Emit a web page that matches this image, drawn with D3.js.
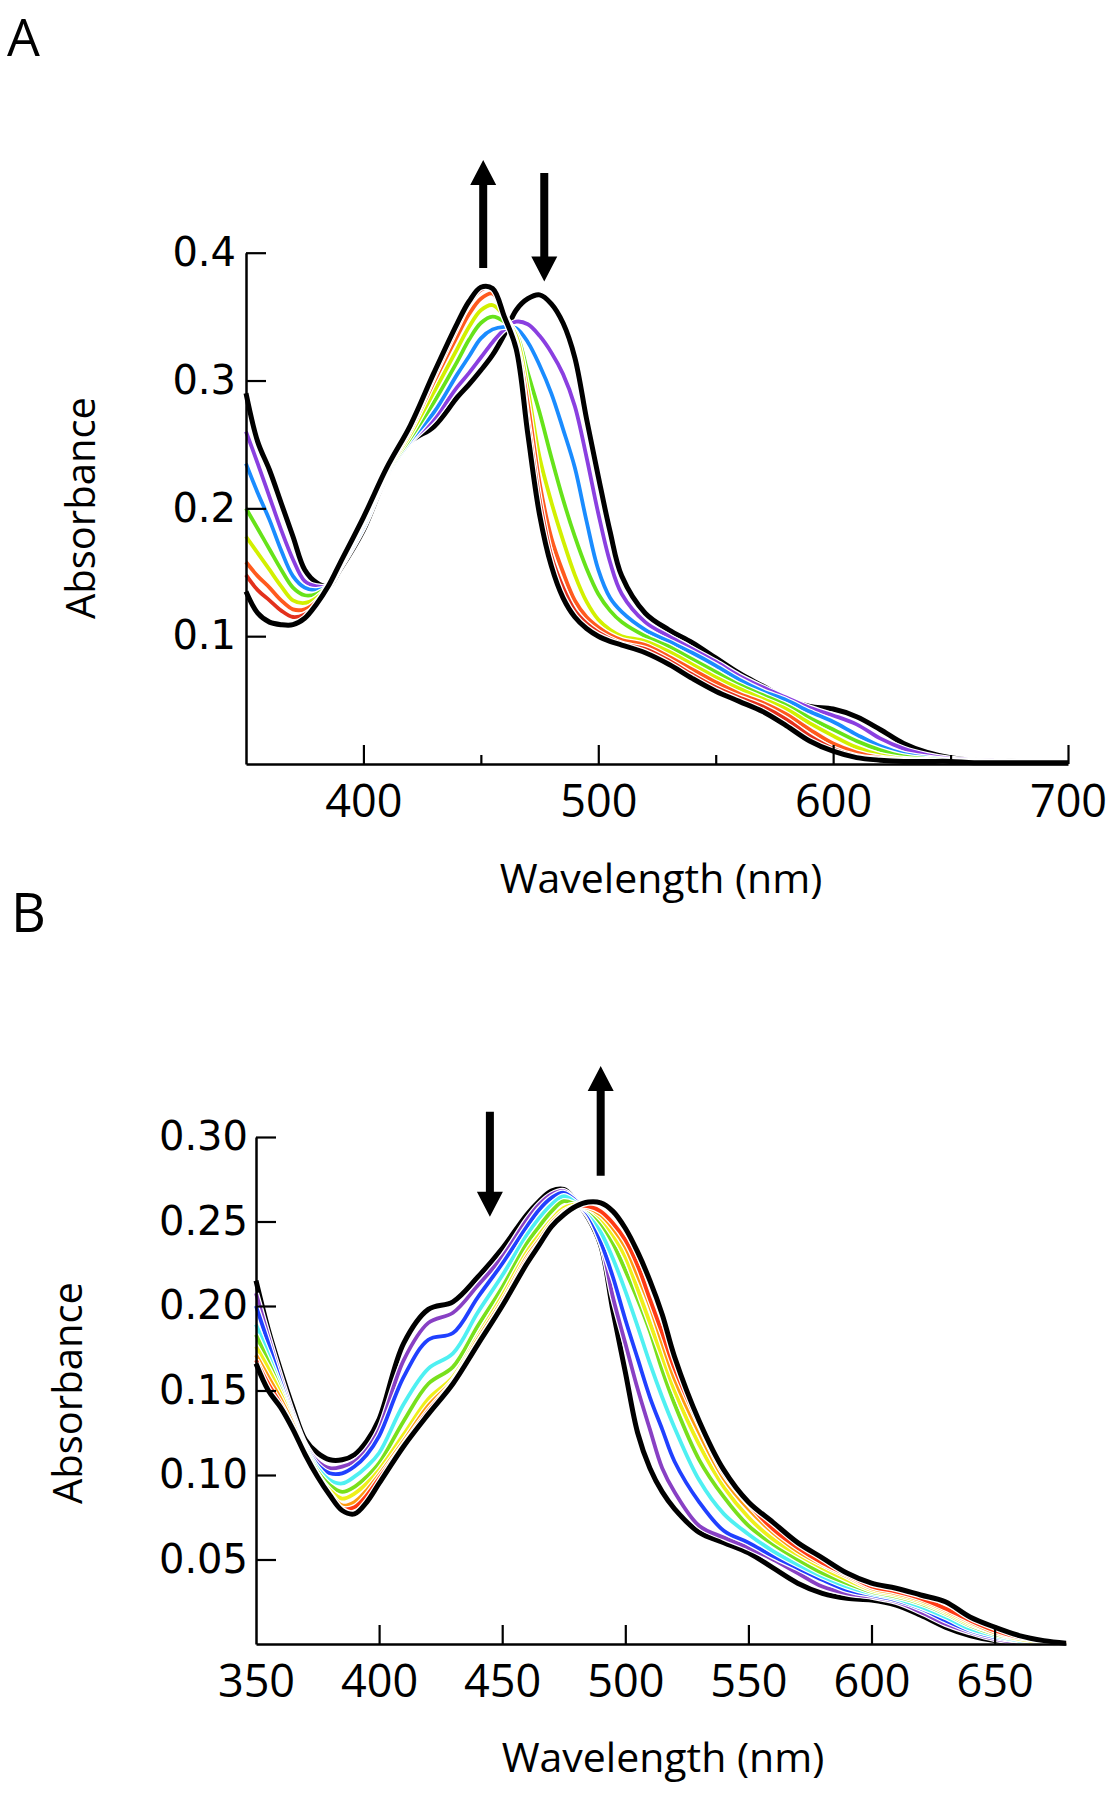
<!DOCTYPE html>
<html><head><meta charset="utf-8">
<script src="https://cdn.jsdelivr.net/npm/d3@7"></script>
<style>body{margin:0;background:#fff}</style>
</head><body><svg id="c" width="1114" height="1800"></svg>
<script>
// ---------- Panel A data ----------
const wlA = [350,355,360,365,370,375,380,385,390,400,410,420,430,440,445,450,455,460,465,470,475,480,485,490,495,500,505,510,520,530,540,550,560,570,580,590,600,610,620,630,640,650,660,680,700];
const aInitial = [.29,.252,.23,.204,.178,.152,.142,.139,.152,.183,.226,.252,.264,.287,.297,.308,.32,.336,.355,.364,.367,.36,.345,.318,.27,.225,.182,.147,.118,.105,.095,.083,.071,.061,.051,.045,.043,.037,.027,.016,.009,.005,.003,.002,.002];
const aPurple  = [.26,.235,.209,.183,.16,.143,.139,.139,.153,.185,.226,.252,.27,.295,.306,.318,.33,.34,.346,.344,.335,.322,.305,.28,.24,.196,.158,.133,.111,.1,.09,.08,.069,.06,.052,.044,.038,.031,.02,.012,.007,.004,.003,.002,.001];
const aBlue    = [.235,.212,.191,.167,.147,.138,.136,.139,.154,.186,.227,.253,.275,.305,.319,.333,.34,.342,.341,.33,.312,.29,.262,.232,.19,.152,.13,.119,.105,.096,.087,.077,.066,.057,.05,.041,.033,.023,.014,.008,.005,.003,.002,.001,.001];
const aGreen   = [.2,.184,.168,.152,.138,.132,.133,.139,.155,.188,.228,.255,.283,.315,.332,.345,.35,.346,.337,.306,.275,.24,.207,.178,.153,.133,.12,.111,.1,.092,.082,.072,.062,.054,.046,.036,.027,.018,.011,.006,.004,.003,.002,.001,.001];
const aYellow  = [.178,.165,.152,.139,.128,.126,.13,.139,.155,.189,.229,.258,.291,.325,.342,.355,.359,.35,.335,.293,.24,.205,.175,.148,.127,.113,.105,.1,.096,.088,.078,.068,.059,.051,.043,.032,.022,.013,.007,.004,.003,.002,.002,.001,.001];
const aOrange  = [.158,.147,.138,.128,.121,.121,.127,.139,.156,.19,.23,.261,.299,.335,.352,.364,.368,.352,.33,.282,.22,.177,.15,.128,.115,.107,.101,.097,.093,.084,.074,.064,.055,.048,.039,.027,.016,.009,.005,.003,.002,.002,.002,.001,.001];
const aRed     = [.148,.136,.128,.12,.115,.117,.124,.138,.156,.191,.231,.263,.303,.342,.36,.371,.372,.352,.328,.268,.207,.163,.138,.12,.11,.103,.098,.094,.09,.081,.07,.06,.052,.045,.035,.022,.012,.006,.004,.003,.002,.002,.002,.001,.001];
const aFinal   = [.135,.118,.111,.109,.109,.114,.125,.139,.157,.193,.232,.265,.306,.345,.362,.373,.372,.35,.325,.258,.195,.155,.13,.115,.106,.1,.096,.093,.087,.078,.067,.057,.049,.041,.03,.018,.01,.005,.003,.002,.002,.002,.001,.001,.001];
const ticksAx = [400,500,600,700];
const minorAx = [450,550,650];
const ticksAy = [0.1,0.2,0.3,0.4];

// ---------- Panel B data ----------
const wlB = [350,355,360,365,370,375,380,385,390,395,400,410,420,430,440,450,460,465,470,475,480,485,490,495,500,505,510,515,520,530,540,550,560,570,580,590,600,610,620,630,640,650,660,670,679];
const bInitial = [.215,.186,.162,.140,.121,.113,.109,.109,.112,.12,.133,.178,.198,.2025,.217,.234,.254,.262,.268,.269,.262,.252,.236,.197,.161,.125,.104,.09,.08,.066,.06,.054,.045,.036,.03,.027,.026,.023,.017,.01,.005,.002,.001,.0005,0];
const bPurple  = [.2075,.182,.158,.136,.118,.108,.104,.105,.108,.115,.127,.168,.19,.196,.212,.229,.251,.26,.266,.268,.262,.253,.238,.205,.178,.151,.127,.104,.09,.07,.063,.057,.05,.042,.034,.03,.028,.025,.019,.012,.007,.003,.001,.001,0];
const bBlue    = [.2,.178,.155,.134,.117,.106,.101,.101,.105,.112,.123,.158,.18,.184,.205,.225,.247,.257,.264,.267,.262,.254,.238,.217,.192,.169,.146,.127,.108,.084,.067,.06,.052,.045,.038,.032,.029,.026,.021,.014,.008,.004,.002,.001,0];
const bCyan    = [.189,.171,.152,.133,.116,.104,.097,.095,.099,.105,.113,.142,.163,.172,.196,.218,.242,.252,.26,.265,.261,.256,.244,.228,.209,.188,.166,.146,.128,.097,.077,.065,.055,.047,.04,.034,.03,.027,.022,.016,.009,.005,.002,.001,0];
const bGreen   = [.183,.167,.15,.132,.115,.102,.094,.09,.093,.099,.107,.132,.154,.164,.188,.211,.237,.247,.256,.262,.26,.257,.249,.237,.221,.204,.185,.162,.142,.109,.087,.07,.059,.05,.042,.036,.031,.028,.024,.018,.011,.006,.003,.001,0];
const bYellow  = [.176,.163,.148,.131,.114,.1,.091,.086,.089,.095,.103,.124,.145,.158,.182,.206,.232,.242,.251,.258,.26,.258,.252,.242,.229,.21,.19,.17,.15,.118,.093,.075,.062,.053,.045,.038,.032,.029,.025,.019,.012,.007,.003,.001,0];
const bOrange  = [.171,.158,.145,.13,.113,.1,.089,.082,.084,.091,.1,.12,.141,.156,.18,.203,.229,.239,.249,.256,.259,.258,.254,.246,.235,.218,.2,.178,.157,.125,.098,.08,.066,.055,.047,.04,.033,.03,.026,.02,.013,.007,.004,.002,0];
const bRed     = [.168,.154,.142,.128,.112,.099,.088,.08,.081,.088,.098,.118,.138,.155,.178,.201,.227,.237,.247,.255,.259,.259,.256,.249,.239,.224,.204,.184,.163,.13,.101,.083,.068,.057,.048,.041,.034,.031,.027,.021,.014,.008,.004,.002,.0005];
const bFinal   = [.166,.150,.140,.127,.112,.099,.088,.079,.077,.084,.095,.117,.136,.154,.177,.2,.225,.236,.247,.254,.259,.2615,.261,.256,.246,.232,.215,.195,.17,.132,.103,.084,.072,.06,.051,.042,.036,.033,.029,.025,.016,.01,.005,.002,.0005];
const ticksBx = [400,450,500,550,600,650];
const labelsBx = [350,400,450,500,550,600,650];
const ticksBy = [0.05,0.10,0.15,0.20,0.25,0.30];

// arrows (wavelength, tail absorbance, tip absorbance)
const arrowsA = [{wl:451, tail:0.388, tip:0.4726},{wl:477, tail:0.4624, tip:0.3774}];
const arrowsB = [{wl:445, tail:0.315, tip:0.2528},{wl:490, tail:0.277, tip:0.342}];

const seriesA = [
  {v:aInitial, c:'#000000', w:5},
  {v:aPurple,  c:'#8a3fe0', w:3.8},
  {v:aBlue,    c:'#1a8cff', w:3.8},
  {v:aGreen,   c:'#66e31a', w:3.8},
  {v:aYellow,  c:'#d2f000', w:3.8},
  {v:aOrange,  c:'#ff5a1e', w:3.8},
  {v:aRed,     c:'#e3301c', w:3.8},
  {v:aFinal,   c:'#000000', w:5}
];
const seriesB = [
  {v:bInitial, c:'#000000', w:5},
  {v:bPurple,  c:'#8840c4', w:3.8},
  {v:bBlue,    c:'#2040ff', w:3.8},
  {v:bCyan,    c:'#4ff0f2', w:3.8},
  {v:bGreen,   c:'#78e01c', w:3.8},
  {v:bYellow,  c:'#eef01a', w:3.8},
  {v:bOrange,  c:'#ff9a10', w:3.8},
  {v:bRed,     c:'#ff3a14', w:3.8},
  {v:bFinal,   c:'#000000', w:5}
];

const svg = d3.select('#c');

function drawPanel(o) {
  const g = svg.append('g');
  const x = o.x, y = o.y;
  const line = d3.line().x((d,i)=>x(o.wl[i])).y(d=>y(d)).curve(d3.curveCatmullRom.alpha(0.5));
  o.series.forEach(s => {
    g.append('path').attr('d', line(s.v)).attr('fill','none')
      .attr('stroke','#fff').attr('stroke-width', s.w+2.5).attr('stroke-linejoin','round');
    g.append('path').attr('d', line(s.v)).attr('fill','none')
      .attr('stroke',s.c).attr('stroke-width', s.w).attr('stroke-linejoin','round');
  });
  // x axis
  const xa = g.append('g').attr('transform',`translate(0,${y(0)})`)
    .call(d3.axisBottom(x).tickValues(o.xLabels).tickSizeInner(0).tickSizeOuter(0).tickPadding(21).tickFormat(d3.format('d')));
  xa.selectAll('.tick text').attr('font-family','"Open Sans"').attr('font-size',45).attr('fill','#000');
  xa.select('.domain').attr('stroke','#000').attr('stroke-width',2.5);
  const xt = g.append('g').attr('transform',`translate(0,${y(0)})`)
    .call(d3.axisBottom(x).tickValues(o.xTicks).tickSizeInner(-19).tickSizeOuter(0).tickFormat(''));
  xt.select('.domain').remove();
  xt.selectAll('line').attr('stroke','#000').attr('stroke-width',2.2);
  if (o.xMinor) {
    const xm = g.append('g').attr('transform',`translate(0,${y(0)})`)
      .call(d3.axisBottom(x).tickValues(o.xMinor).tickSizeInner(-9).tickSizeOuter(0).tickFormat(''));
    xm.select('.domain').remove();
    xm.selectAll('line').attr('stroke','#000').attr('stroke-width',2.2);
  }
  // y axis
  const ya = g.append('g').attr('transform',`translate(${x(o.wl[0])},0)`)
    .call(d3.axisLeft(y).tickValues(o.yTicks).tickSizeInner(-20).tickSizeOuter(0).tickPadding(o.yPad).tickFormat(d3.format(o.yFmt)));
  ya.selectAll('.tick text').attr('font-family','"DejaVu Sans"').attr('font-size',40).attr('fill','#000');
  ya.selectAll('.tick line').attr('stroke','#000').attr('stroke-width',2.2);
  ya.select('.domain').attr('stroke','#000').attr('stroke-width',2.5);
  // titles
  g.append('text').attr('x',o.xtX).attr('y',o.xtY).attr('text-anchor','middle')
    .attr('font-family','"Open Sans"').attr('font-size',41).text('Wavelength (nm)');
  g.append('text').attr('transform',`translate(${o.ytX},${o.ytY}) rotate(-90)`).attr('text-anchor','middle')
    .attr('dy','0.36em').attr('font-family','"Open Sans"').attr('font-size',40).text('Absorbance');
  g.append('text').attr('x',o.pX).attr('y',o.pY).attr('font-family','"Open Sans"').attr('font-size',o.pSize).text(o.panel);
  // arrows
  o.arrows.forEach(a => {
    const X = x(a.wl), T = y(a.tail), P = y(a.tip);
    const dir = Math.sign(P - T), hl = 25, hw = 13, sw = 4;
    const B = P - dir*hl;
    g.append('path').attr('fill','#000')
      .attr('d',`M${X-sw},${T}L${X+sw},${T}L${X+sw},${B}L${X+hw},${B}L${X},${P}L${X-hw},${B}L${X-sw},${B}Z`);
  });
}

drawPanel({
  wl: wlA, series: seriesA,
  x: d3.scaleLinear().domain([350,700]).range([246,1068]),
  y: d3.scaleLinear().domain([0,0.4]).range([764,252.7]),
  xLabels: ticksAx, xTicks: ticksAx, xMinor: minorAx, yTicks: ticksAy, yFmt: '.1f', yPad: 10,
  xtX: 661, xtY: 893, ytX: 81, ytY: 508, pX: 7, pY: 56, pSize: 52, panel: 'A', arrows: arrowsA
});
drawPanel({
  wl: wlB, series: seriesB,
  x: d3.scaleLinear().domain([350,679]).range([256,1066]),
  y: d3.scaleLinear().domain([0,0.30]).range([1644,1137]),
  xLabels: labelsBx, xTicks: ticksBx, xMinor: null, yTicks: ticksBy, yFmt: '.2f', yPad: 8,
  xtX: 663, xtY: 1772, ytX: 68, ytY: 1393, pX: 11, pY: 932, pSize: 54, panel: 'B', arrows: arrowsB
});
</script>
</body></html>
